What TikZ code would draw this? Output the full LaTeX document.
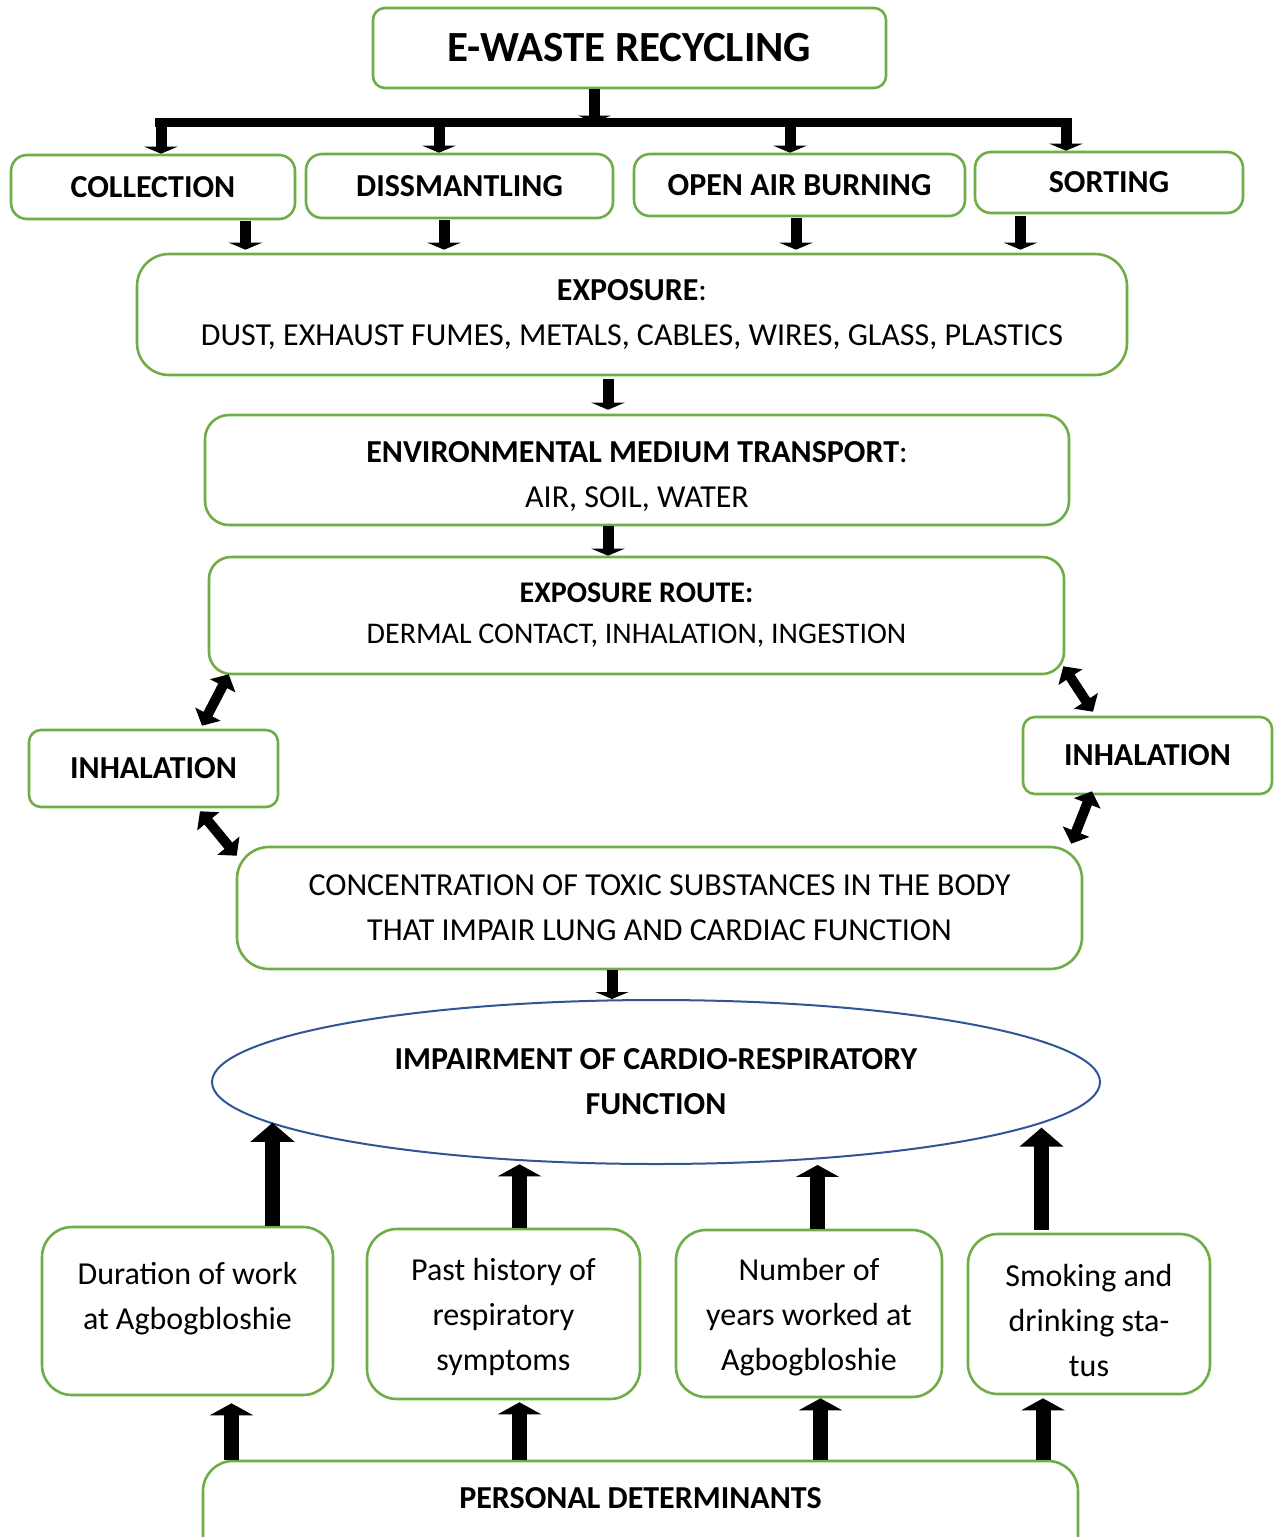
\documentclass[tikz,border=0pt]{standalone}
\usepackage{fontspec}
\setmainfont{Carlito}
\usetikzlibrary{arrows.meta,shapes.geometric}
\definecolor{gbox}{HTML}{70AD47}
\definecolor{bell}{HTML}{2F5597}
\newcommand{\fs}[2]{\fontsize{#1}{#2}\selectfont}
\begin{document}
\begin{tikzpicture}[x=1pt,y=-1pt,
  box/.style={draw=gbox, line width=2.6pt, rounded corners=#1, fill=white, align=center, inner sep=0pt},
  box/.default=16pt,
  flat/.style={line width=11pt, -{Triangle[width=33pt,length=7pt]}},
  dbl/.style={line width=10pt, {Triangle[width=28pt,length=13pt]}-{Triangle[width=28pt,length=13pt]}},
  big/.style={line width=15pt, -{Triangle[width=43pt,length=#1]}},
  big/.default=12pt,
  barline/.style={line width=9.5pt}]
\useasboundingbox (0,0) rectangle (1278,1537);

% nodes
\node[box=12pt, minimum width=513pt, minimum height=80pt, font=\fs{43}{50}\bfseries] (title) at (629.5,48) {E-WASTE RECYCLING};
\node[box, minimum width=284pt, minimum height=64pt, font=\fs{32}{38}\bfseries] (coll) at (153,187) {COLLECTION};
\node[box, minimum width=307pt, minimum height=64pt, font=\fs{32}{38}\bfseries] (diss) at (459.5,186) {DISSMANTLING};
\node[box, minimum width=331pt, minimum height=62pt, font=\fs{32}{38}\bfseries] (open) at (799.5,185) {OPEN AIR BURNING};
\node[box, minimum width=268pt, minimum height=61pt, font=\fs{32}{38}\bfseries] (sort) at (1109,182.5) {SORTING};
\node[box=32pt, minimum width=990pt, minimum height=121pt, font=\fs{32}{45}] (expo) at (632,314.5) {\textbf{EXPOSURE}:\\DUST, EXHAUST FUMES, METALS, CABLES, WIRES, GLASS, PLASTICS};
\node[box=24pt, minimum width=864pt, minimum height=110pt, text height=75pt, text depth=0pt, font=\fs{32}{45}] (env) at (637,470) {\textbf{ENVIRONMENTAL MEDIUM TRANSPORT}:\\AIR, SOIL, WATER};
\node[box=22pt, minimum width=855pt, minimum height=117pt, font=\fs{30}{41}] (route) at (636.5,615.5) {\textbf{EXPOSURE ROUTE:}\\DERMAL CONTACT, INHALATION, INGESTION};
\node[box=12pt, minimum width=249pt, minimum height=77pt, font=\fs{32}{38}\bfseries] (inhL) at (153.5,768.5) {INHALATION};
\node[box=12pt, minimum width=249pt, minimum height=77pt, font=\fs{32}{38}\bfseries] (inhR) at (1147.5,755.5) {INHALATION};
\node[box=32pt, minimum width=845pt, minimum height=122pt, font=\fs{32}{45}] (conc) at (659.5,908) {CONCENTRATION OF TOXIC SUBSTANCES IN THE BODY\\THAT IMPAIR LUNG AND CARDIAC FUNCTION};
\node[ellipse, draw=bell, line width=2pt, inner sep=0pt, minimum width=888pt, minimum height=164pt, align=center, font=\fs{32}{45}\bfseries] (ell) at (656,1082) {IMPAIRMENT OF CARDIO-RESPIRATORY\\FUNCTION};
\node[box=30pt, minimum width=291pt, minimum height=168pt, text height=69pt, text depth=33pt, font=\fs{32}{45}] (dur) at (187.5,1311) {Duration of work\\at Agbogbloshie};
\node[box=30pt, minimum width=273pt, minimum height=170pt, text height=119pt, text depth=7pt, font=\fs{32}{45}] (past) at (503.5,1314) {Past history of\\respiratory\\symptoms};
\node[box=30pt, minimum width=266pt, minimum height=167pt, text height=120pt, text depth=7pt, font=\fs{32}{45}] (num) at (809,1313.5) {Number of\\years worked at\\Agbogbloshie};
\node[box=30pt, minimum width=242pt, minimum height=160pt, text height=124pt, text depth=0pt, font=\fs{32}{45}] (smok) at (1089,1314) {Smoking and\\drinking sta-\\tus};
\node[box=30pt, minimum width=875pt, text height=47pt, text depth=73pt, inner ysep=0pt, anchor=base, font=\fs{32}{38}\bfseries] (pers) at (640.5,1508) {PERSONAL DETERMINANTS};

% coordinates for vertical connectors
\coordinate (a0) at (594.5,0);
\coordinate (a1) at (161,0);
\coordinate (a2) at (439,0);
\coordinate (a3) at (790,0);
\coordinate (a4) at (1066,0);
\coordinate (barL) at (155,122.5);
\coordinate (barR) at (1072,122.5);
\coordinate (l1) at (245.5,0);
\coordinate (l2) at (444,0);
\coordinate (l3) at (796,0);
\coordinate (l4) at (1020.5,0);
\coordinate (m1) at (608,0);
\coordinate (m2) at (612,0);
\coordinate (u1) at (272.5,0);
\coordinate (u2) at (519.5,0);
\coordinate (u3) at (817.5,0);
\coordinate (u4) at (1041.5,0);
\coordinate (p1) at (231.5,0);
\coordinate (p2) at (519.5,0);
\coordinate (p3) at (820.5,0);
\coordinate (p4) at (1043,0);

% title branching
\draw[flat] (a0 |- title.south) -- (a0 |- barL);
\draw[barline] (barL) -- (barR);
\draw[flat] (a1 |- barL) -- (a1 |- coll.north);
\draw[flat] (a2 |- barL) -- (a2 |- diss.north);
\draw[flat] (a3 |- barL) -- (a3 |- open.north);
\draw[flat] (a4 |- barL) -- (a4 |- sort.north);

% into exposure
\draw[flat, shorten <=1pt, shorten >=3pt] (l1 |- coll.south) -- (l1 |- expo.north);
\draw[flat, shorten <=1pt, shorten >=3pt] (l2 |- diss.south) -- (l2 |- expo.north);
\draw[flat, shorten <=1pt, shorten >=3pt] (l3 |- open.south) -- (l3 |- expo.north);
\draw[flat, shorten <=2pt, shorten >=3pt] (l4 |- sort.south) -- (l4 |- expo.north);

% central chain
\draw[flat, shorten <=3pt, shorten >=4pt] (m1 |- expo.south) -- (m1 |- env.north);
\draw[flat] (m1 |- env.south) -- (m1 |- route.north);
\draw[flat] (m2 |- conc.south) -- (m2 |- ell.north);

% double arrows
\draw[dbl] ([shift={(21,-1)}]route.south west) -- ([shift={(48.5,-3)}]inhL.north);
\draw[dbl] ([shift={(46.5,3)}]inhL.south) -- ([shift={(1,10)}]conc.north west);
\draw[dbl] ([shift={(-2,-9)}]route.south east) -- ([shift={(-54.5,-4)}]inhR.north);
\draw[dbl] ([shift={(-55.5,-4)}]inhR.south) -- ([shift={(-12,-2)}]conc.north east);

% factors up to ellipse
\draw[big=19pt] (u1 |- dur.north) -- (u1 |- ell.186);
\draw[big, shorten >=3pt] (u2 |- past.north) -- (u2 |- ell.211);
\draw[big, shorten >=5pt] (u3 |- num.north) -- (u3 |- ell.333);
\draw[big=19pt, shorten <=3pt] (u4 |- smok.north) -- (u4 |- ell.353.5);

% personal determinants up to factors
\draw[big, shorten >=7pt] (p1 |- pers.north) -- (p1 |- dur.south);
\draw[big, shorten >=2pt] (p2 |- pers.north) -- (p2 |- past.south);
\draw[big, shorten >=0pt] (p3 |- pers.north) -- (p3 |- num.south);
\draw[big, shorten >=3pt] (p4 |- pers.north) -- (p4 |- smok.south);
\end{tikzpicture}
\end{document}
